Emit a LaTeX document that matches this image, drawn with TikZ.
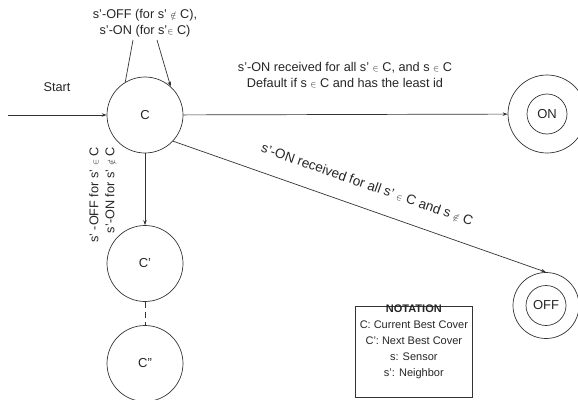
\documentclass[tikz,border=0pt]{standalone}
\usepackage{amsmath, amssymb}
\usepackage{fontspec}
\setmainfont{Liberation Sans}
\usepackage{tikz}
\usetikzlibrary{arrows.meta, positioning, calc}

\newcommand{\elem}{\ensuremath{\scriptstyle\in}}
\newcommand{\nelem}{\ensuremath{\scriptstyle\notin}}

\tikzset{
  state/.style={draw=black!80, circle, line width=0.7pt, minimum size=76pt,
    inner sep=0pt, text=black!85, font=\fontsize{13}{15}\selectfont},
  inner state/.style={state, minimum size=40pt},
  edge label/.style={text=black!85, font=\fontsize{12.7}{16}\selectfont,
    align=center, inner sep=0pt},
  trans/.style={draw=black!80, line width=0.7pt}
}

\begin{document}
\begin{tikzpicture}[x=1pt, y=-1pt, >={Stealth[length=5pt, width=3.5pt]}]
  \useasboundingbox (0,0) rectangle (578,399);
  \clip (0,0) rectangle (578,399);

  % states
  \node[state] (C) at (145,115) {C};
  \node[state] (Cp) at (145,263.5) {C'};
  \node[state] (Cpp) at (145,363.5) {C''};
  \node[state, minimum size=78pt] (on) at (547,114) {};
  \node[inner state] (onin) at (on) {ON};
  \node[state, minimum size=66pt] (off) at (546,305.5) {};
  \node[inner state] (offin) at (off) {OFF};

  % start
  \coordinate (start) at (8,115);
  \node[edge label] (startlabel) at (57,87) {Start};
  \draw[trans, ->] (start) -- (C);

  % self loop on C
  \node[edge label] (looplabel) at (145,23)
    {s'-OFF (for s' \nelem\ C),\\ s'-ON (for s'\elem\ C)};
  \coordinate (loopout) at (133,40);
  \coordinate (loopin) at (157,40);
  \draw[trans] (C.121) -- (loopout);
  \draw[trans, ->] (loopin) -- (C.48);

  % C -> ON
  \draw[trans, ->] (C) -- (on);
  \node[edge label] (onlabel) at (345,75)
    {s'-ON received for all s' \elem\ C, and s \elem\ C\\
     Default if s \elem\ C and has the least id};

  % C -> OFF
  \draw[trans, ->] (C.-43) -- (off.north)
    node[pos=0.5, sloped, above=18pt, edge label,
      font=\fontsize{13.5}{16}\selectfont] (offlabel)
    {s'-ON received for all s' \elem\ C and s \nelem\ C};

  % C -> C'
  \draw[trans, ->] (C) -- (Cp);
  \node[edge label, rotate=90, align=right] (cplabel) at (102,195)
    {s' -OFF for s' \elem\ C\\ s'-ON for s' \nelem\ C};

  % C' .. C''
  \draw[trans, dash pattern=on 6pt off 4pt] (Cp) -- (Cpp);

  % notation
  \node[draw=black!80, line width=0.7pt, minimum width=117pt,
    minimum height=91pt, anchor=north west, inner sep=0pt] (notation)
    at (355,306) {};
  \node[edge label, anchor=north, font=\fontsize{11}{16}\selectfont]
    (notationtext) at ($(notation.north)+(0,-1)$)
    {\textbf{NOTATION}\\ C: Current Best Cover\\ C': Next Best Cover\\
     s: Sensor\\ s': Neighbor};
\end{tikzpicture}
\end{document}
